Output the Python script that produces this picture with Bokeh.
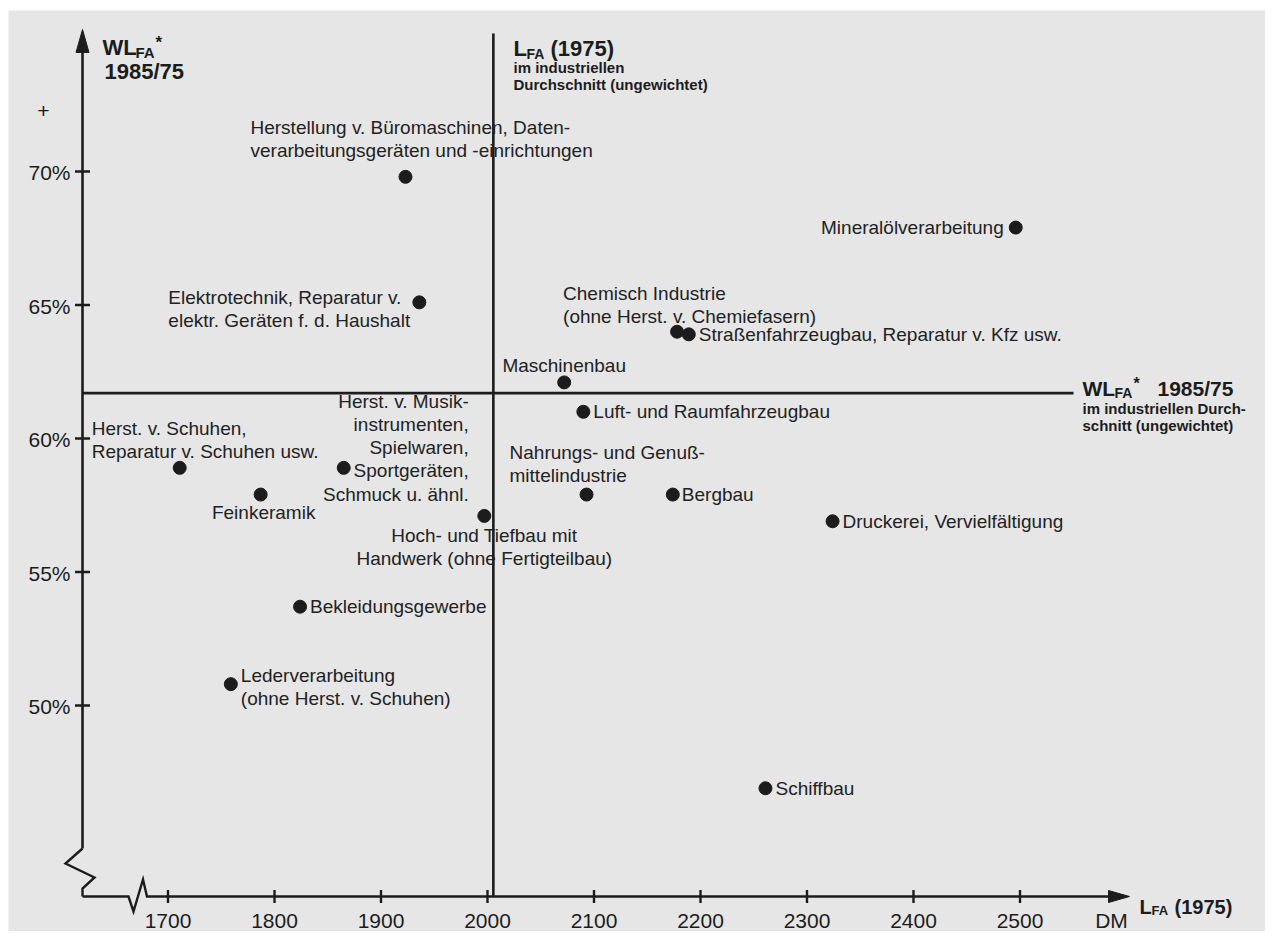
import math
from bokeh.plotting import figure
from bokeh.models import Range1d, ColumnDataSource
from bokeh.embed import file_html
from bokeh.resources import INLINE
from bokeh.core.properties import value

# ---------------- data ----------------
industries = [
    "Herstellung v. Büromaschinen, Daten-\nverarbeitungsgeräten und -einrichtungen",
    "Elektrotechnik, Reparatur v.\nelektr. Geräten f. d. Haushalt",
    "Chemisch Industrie\n(ohne Herst. v. Chemiefasern)",
    "Straßenfahrzeugbau, Reparatur v. Kfz usw.",
    "Mineralölverarbeitung",
    "Maschinenbau",
    "Luft- und Raumfahrzeugbau",
    "Herst. v. Musik-\ninstrumenten,\nSpielwaren,\nSportgeräten,\nSchmuck u. ähnl.",
    "Herst. v. Schuhen,\nReparatur v. Schuhen usw.",
    "Feinkeramik",
    "Nahrungs- und Genuß-\nmittelindustrie",
    "Bergbau",
    "Hoch- und Tiefbau mit\nHandwerk (ohne Fertigteilbau)",
    "Druckerei, Vervielfältigung",
    "Bekleidungsgewerbe",
    "Lederverarbeitung\n(ohne Herst. v. Schuhen)",
    "Schiffbau",
]
lfa_1975 = [1923, 1936, 2178, 2189, 2496, 2072, 2090, 1865, 1711, 1787,
            2093, 2174, 1997, 2324, 1824, 1759, 2261]
wlfa_1985_75 = [69.8, 65.1, 64.0, 63.9, 67.9, 62.1, 61.0, 58.9, 58.9, 57.9,
                57.9, 57.9, 57.1, 56.9, 53.7, 50.8, 46.9]
mean_lfa_1975 = 2005.5
mean_wlfa_1985_75 = 61.7
x_ticks = [1700, 1800, 1900, 2000, 2100, 2200, 2300, 2400, 2500]
x_tick_labels = ["1700", "1800", "1900", "2000", "2100", "2200", "2300", "2400", "2500"]
y_ticks = [50, 55, 60, 65, 70]
y_tick_labels = ["50%", "55%", "60%", "65%", "70%"]

# ---------------- layout (label offsets in screen px) ----------------
label_dx = [-155, -251, -114, 10, -12, 0, 10, 125, -88, 3, -77, 9, 0, 10, 10, 10, 10]
label_dy = [-38, 7, -27, 0, 0, -17, 0, -20, -28, 18, -31, 0, 31, 0, 0, 3, 0]
label_align = ["left", "left", "left", "left", "right", "center", "left", "right", "left",
               "center", "left", "left", "center", "left", "left", "left", "left"]

# chart scale (px per unit) and helpers mapping picture pixels to data units
PX_X = 1.065
PX_Y = 26.7
def dm(px):
    return 1700 + (px - 167.5) / PX_X
def pct(py):
    return 70 - (py - 171) / PX_Y
def ox(px):
    return px / PX_X
def oy(py):
    return -py / PX_Y

W, H = 1265, 931
LEFT, TOP = 8, 10
BG = "#e6e6e6"
INK = "#1c1c1c"
FONT = value("Liberation Sans")

p = figure(width=W, height=H, output_backend="svg", toolbar_location=None,
           x_axis_type=None, y_axis_type=None,
           min_border_left=LEFT, min_border_top=TOP, min_border_right=0, min_border_bottom=0,
           x_range=Range1d(dm(LEFT), dm(W)), y_range=Range1d(pct(H), pct(TOP)))
p.background_fill_color = BG
p.border_fill_color = "white"
p.outline_line_color = None

AX_X = dm(82)      # y-axis position (DM)
AX_Y = pct(896)    # x-axis position (%)

# y axis with break
p.line([AX_X, AX_X], [pct(48), AX_Y + oy(-48)], line_color=INK, line_width=2.6)
p.line([AX_X, AX_X + ox(-17), AX_X + ox(12), AX_X, AX_X],
       [AX_Y + oy(-48), AX_Y + oy(-33), AX_Y + oy(-19), AX_Y + oy(-8), AX_Y],
       line_color=INK, line_width=2.4, line_join="miter")
p.patch([AX_X, AX_X - ox(6.5), AX_X + ox(6.5)], [pct(29), pct(52), pct(52)],
        fill_color=INK, line_color=INK)

# x axis with break
p.line([AX_X, dm(128), dm(133), dm(142.5), dm(146.5), dm(1112)],
       [AX_Y, AX_Y, AX_Y + oy(15), AX_Y + oy(-17), AX_Y, AX_Y],
       line_color=INK, line_width=2.4, line_join="miter")
p.patch([dm(1129), dm(1108), dm(1108)], [AX_Y, AX_Y + oy(-6), AX_Y + oy(6)],
        fill_color=INK, line_color=INK)

# tick marks
p.scatter(x=x_ticks, y=[AX_Y] * len(x_ticks), marker="dash", size=13, angle=math.pi / 2,
          line_color=INK, line_width=2.4)
p.scatter(x=[AX_X] * len(y_ticks), y=y_ticks, marker="dash", size=15,
          line_color=INK, line_width=2.4)

# mean lines
p.line([mean_lfa_1975, mean_lfa_1975], [pct(33), AX_Y], line_color=INK, line_width=2.6)
p.line([AX_X, dm(1073)], [mean_wlfa_1985_75, mean_wlfa_1985_75], line_color=INK, line_width=2.6)

# tick labels
p.text(x=x_ticks, y=[pct(920)] * len(x_ticks), text=x_tick_labels, text_font=FONT,
       text_font_size="21px", text_color=INK, text_align="center", text_baseline="middle")
p.text(x=[dm(1111)], y=[pct(920)], text=["DM"], text_font=FONT,
       text_font_size="21px", text_color=INK, text_align="center", text_baseline="middle")
p.text(x=[dm(70)] * len(y_ticks), y=y_ticks, text=y_tick_labels, text_font=FONT,
       text_font_size="21px", text_color=INK, text_align="right", text_baseline="middle",
       y_offset=1)
p.text(x=[dm(43)], y=[pct(110)], text=["+"], text_font=FONT,
       text_font_size="21px", text_color=INK, text_align="center", text_baseline="middle")

# points and labels
src = ColumnDataSource(dict(x=lfa_1975, y=wlfa_1985_75, name=industries,
                            dx=label_dx, dy=label_dy, align=label_align))
p.scatter("x", "y", source=src, size=13, fill_color=INK, line_color=INK)
p.text("x", "y", text="name", source=src, x_offset="dx", y_offset="dy",
       text_align="align", text_baseline="middle", text_font=FONT,
       text_font_size="19px", text_color="#222222", text_line_height=1.1)

# headers (bold, with subscripts)
def btxt(px, py, s, size, align="left", baseline="alphabetic", style="bold"):
    p.text(x=[dm(px)], y=[pct(py)], text=[s], text_font=FONT, text_font_size=f"{size}px",
           text_font_style=style, text_color=INK, text_align=align, text_baseline=baseline)

# top-left: WL_FA* 1985/75
btxt(102, 47, "WL", 22)
btxt(135, 52, "FA", 15)
btxt(155, 42, "*", 17)
btxt(104, 71, "1985/75", 22)
# top: L_FA (1975) im industriellen Durchschnitt (ungewichtet)
btxt(513, 48, "L", 22)
btxt(526, 53, "FA", 14)
btxt(550, 48, "(1975)", 22)
btxt(513, 67, "im industriellen", 15)
btxt(513, 84, "Durchschnitt (ungewichtet)", 15)
# right: WL_FA* 1985/75 im industriellen Durchschnitt (ungewichtet)
btxt(1082, 388, "WL", 21)
btxt(1114, 392, "FA", 14)
btxt(1133, 383, "*", 16)
btxt(1157, 388, "1985/75", 21)
btxt(1082, 408, "im industriellen Durch-", 15)
btxt(1082, 425, "schnitt (ungewichtet)", 15)
# x-axis title
btxt(1139, 906, "L", 20)
btxt(1151, 910, "FA", 13)
btxt(1174, 906, "(1975)", 20)

open("out.html", "w").write(file_html(p, INLINE))
